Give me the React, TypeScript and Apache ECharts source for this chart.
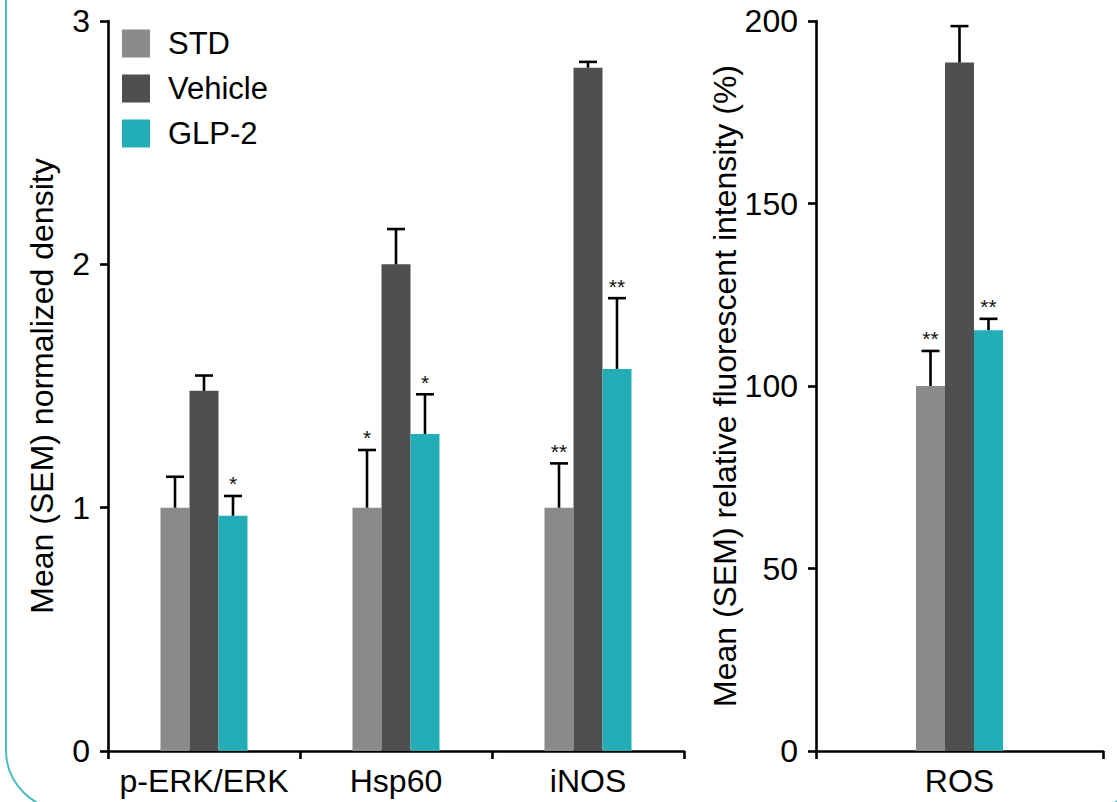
import React, { useEffect, useRef } from "react";
import * as echarts from "echarts";

// ---- Data ----
const categoriesLeft = ["p-ERK/ERK", "Hsp60", "iNOS"];
const stdLeft = [1.0, 1.0, 1.0];
const stdErrLeft = [0.127, 0.237, 0.182];
const vehicleLeft = [1.48, 2.0, 2.808];
const vehicleErrLeft = [0.063, 0.145, 0.024];
const glpLeft = [0.967, 1.303, 1.57];
const glpErrLeft = [0.081, 0.163, 0.291];
const stdSigLeft = ["", "*", "**"];
const vehicleSigLeft = ["", "", ""];
const glpSigLeft = ["*", "*", "**"];

const categoriesRight = ["ROS"];
const stdRight = [100];
const stdErrRight = [9.6];
const vehicleRight = [188.6];
const vehicleErrRight = [10.0];
const glpRight = [115.3];
const glpErrRight = [3.1];
const stdSigRight = ["**"];
const vehicleSigRight = [""];
const glpSigRight = ["**"];

const leftTicks = [0, 1, 2, 3];
const rightTicks = [0, 50, 100, 150, 200];

const seriesNames = ["STD", "Vehicle", "GLP-2"];
const colors = ["#898b8b", "#4f4f4f", "#22adb7"];

const FONT = "'Liberation Sans', Arial, Helvetica, sans-serif";
const BAR_W = 29;

type Row = { cat: number; value: number; err: number; offset: number; sig: string };

function buildRows(
  vals: number[][],
  errs: number[][],
  sigs: string[][]
): Row[] {
  const rows: Row[] = [];
  vals.forEach((arr, s) => {
    arr.forEach((v, c) => {
      rows.push({ cat: c, value: v, err: errs[s][c], offset: s - 1, sig: sigs[s][c] });
    });
  });
  return rows;
}

const rowsLeft = buildRows(
  [stdLeft, vehicleLeft, glpLeft],
  [stdErrLeft, vehicleErrLeft, glpErrLeft],
  [stdSigLeft, vehicleSigLeft, glpSigLeft]
);
const rowsRight = buildRows(
  [stdRight, vehicleRight, glpRight],
  [stdErrRight, vehicleErrRight, glpErrRight],
  [stdSigRight, vehicleSigRight, glpSigRight]
);

function errorSeries(rows: Row[], axisIndex: number) {
  return {
    type: "custom",
    xAxisIndex: axisIndex,
    yAxisIndex: axisIndex,
    z: 5,
    data: rows.map((r) => [r.cat, r.value + r.err]),
    encode: { x: 0, y: 1 },
    renderItem: (params: any, api: any) => {
      const r = rows[params.dataIndex];
      const base = api.coord([r.cat, r.value]);
      const top = api.coord([r.cat, r.value + r.err]);
      const x = base[0] + r.offset * BAR_W;
      const children: any[] = [
        {
          type: "line",
          shape: { x1: x, y1: base[1], x2: x, y2: top[1] },
          style: { stroke: "#000", lineWidth: 2.6 },
        },
        {
          type: "line",
          shape: { x1: x - 9, y1: top[1], x2: x + 9, y2: top[1] },
          style: { stroke: "#000", lineWidth: 2.6 },
        },
      ];
      if (r.sig) {
        children.push({
          type: "text",
          x: x,
          y: top[1] - 12,
          style: {
            text: r.sig,
            fontSize: 21,
            fontFamily: FONT,
            fill: "#111",
            align: "center",
            verticalAlign: "middle",
          },
        });
      }
      return { type: "group", children };
    },
  };
}

function barSeries(axisIndex: number, data: number[][]) {
  return data.map((d, i) => ({
    type: "bar",
    name: seriesNames[i],
    xAxisIndex: axisIndex,
    yAxisIndex: axisIndex,
    data: d,
    barWidth: BAR_W,
    barGap: "0%",
    itemStyle: { color: colors[i] },
  }));
}

const axisLineStyle = { lineStyle: { color: "#000", width: 2.6 } };
const axisTickStyle = { show: true, length: 8, lineStyle: { color: "#000", width: 2.6 } };
const labelStyle = { color: "#000", fontSize: 32, fontFamily: FONT };

export default function App() {
  const ref = useRef<HTMLDivElement>(null);
  useEffect(() => {
    if (!ref.current) return;
    const chart = echarts.init(ref.current, null, { renderer: "svg" });
    chart.setOption({
      animation: false,
      backgroundColor: "#fff",
      graphic: [
        {
          type: "rect",
          shape: { x: 6, y: -60, width: 1140, height: 870, r: 60 },
          style: { fill: "none", stroke: "#4fbcc4", lineWidth: 2 },
          silent: true,
          z: -1,
        },
      ],
      legend: {
        data: seriesNames,
        orient: "vertical",
        left: 122,
        top: 28,
        itemWidth: 28,
        itemHeight: 28,
        itemGap: 14,
        icon: "rect",
        padding: 0,
        textStyle: { ...labelStyle, fontSize: 31, padding: [0, 0, 0, 13] },
      },
      grid: [
        { left: 108, top: 21, width: 576, height: 730 },
        { left: 816, top: 21, width: 287, height: 730 },
      ],
      xAxis: [
        {
          type: "category",
          gridIndex: 0,
          data: categoriesLeft,
          axisLine: axisLineStyle,
          axisTick: axisTickStyle,
          axisLabel: { ...labelStyle, margin: 14, interval: 0 },
        },
        {
          type: "category",
          gridIndex: 1,
          data: categoriesRight,
          axisLine: axisLineStyle,
          axisTick: axisTickStyle,
          axisLabel: { ...labelStyle, margin: 14, interval: 0 },
        },
      ],
      yAxis: [
        {
          type: "value",
          gridIndex: 0,
          min: leftTicks[0],
          max: leftTicks[leftTicks.length - 1],
          interval: leftTicks[1] - leftTicks[0],
          name: "Mean (SEM) normalized density",
          nameLocation: "middle",
          nameGap: 50,
          nameTextStyle: { ...labelStyle },
          axisLine: { show: true, ...axisLineStyle },
          axisTick: axisTickStyle,
          axisLabel: { ...labelStyle, margin: 18 },
          splitLine: { show: false },
        },
        {
          type: "value",
          gridIndex: 1,
          min: rightTicks[0],
          max: rightTicks[rightTicks.length - 1],
          interval: rightTicks[1] - rightTicks[0],
          name: "Mean (SEM) relative fluorescent intensity (%)",
          nameLocation: "middle",
          nameGap: 60,
          nameTextStyle: { ...labelStyle },
          axisLine: { show: true, ...axisLineStyle },
          axisTick: axisTickStyle,
          axisLabel: { ...labelStyle, margin: 18 },
          splitLine: { show: false },
        },
      ],
      series: [
        ...barSeries(0, [stdLeft, vehicleLeft, glpLeft]),
        ...barSeries(1, [stdRight, vehicleRight, glpRight]),
        errorSeries(rowsLeft, 0),
        errorSeries(rowsRight, 1),
      ],
    });
    return () => chart.dispose();
  }, []);
  return (
    <div
      ref={ref}
      style={{ position: "fixed", left: 0, top: 0, width: 1117, height: 802 }}
    />
  );
}
